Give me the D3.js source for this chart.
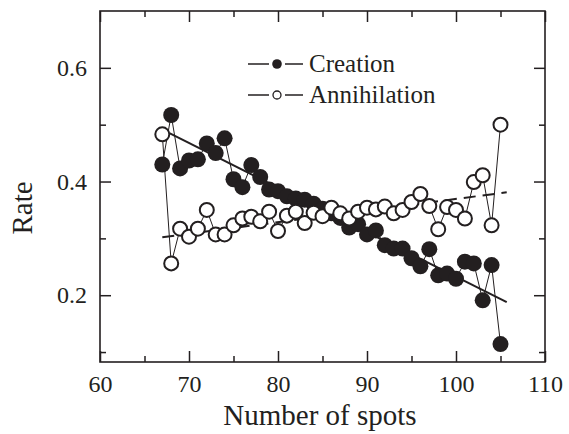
<!DOCTYPE html>
<html>
<head>
<meta charset="utf-8">
<script src="https://cdn.jsdelivr.net/npm/d3@7"></script>
<style>
  body { margin: 0; background: #fff; }
  svg { display: block; }
  svg text { font-family: "Liberation Serif", "Times New Roman", Times, "DejaVu Serif", serif !important; fill: #231f20; }
</style>
</head>
<body>
<script>
const spots = [67, 68, 69, 70, 71, 72, 73, 74, 75, 76, 77, 78, 79, 80, 81, 82, 83, 84, 85, 86,
  87, 88, 89, 90, 91, 92, 93, 94, 95, 96, 97, 98, 99, 100, 101, 102, 103, 104, 105];
const creation = [0.430, 0.517, 0.423, 0.437, 0.439, 0.467, 0.450, 0.476, 0.404, 0.390,
  0.429, 0.408, 0.386, 0.383, 0.374, 0.370, 0.368, 0.361, 0.352, 0.344,
  0.336, 0.319, 0.325, 0.307, 0.314, 0.288, 0.282, 0.282, 0.265, 0.251,
  0.281, 0.235, 0.238, 0.229, 0.259, 0.256, 0.191, 0.253, 0.114];
const annihilation = [0.483, 0.256, 0.317, 0.303, 0.317, 0.350, 0.307, 0.307, 0.323, 0.335,
  0.338, 0.330, 0.347, 0.313, 0.340, 0.347, 0.327, 0.345, 0.339, 0.354,
  0.344, 0.335, 0.347, 0.354, 0.351, 0.356, 0.344, 0.350, 0.364, 0.378,
  0.357, 0.316, 0.355, 0.350, 0.335, 0.399, 0.411, 0.323, 0.500];
// fitted trend lines (end points)
const creationFit = [[67.8, 0.485], [105.7, 0.188]];
const annihilationFit = [[67, 0.302], [105.7, 0.381]];

const xTicks = [60, 65, 70, 75, 80, 85, 90, 95, 100, 105, 110];
const xLabels = [60, 70, 80, 90, 100, 110];
const yTicks = [0.1, 0.2, 0.3, 0.4, 0.5, 0.6];
const yLabels = [0.2, 0.4, 0.6];

const W = 569, H = 434;
const ink = '#231f20';
const serif = '"Liberation Serif", "Times New Roman", Times, "DejaVu Serif", serif';

const svg = d3.select('body').append('svg')
  .attr('width', W)
  .attr('height', H)
  .attr('font-family', serif);

const x = d3.scaleLinear().domain([60, 110]).range([100, 545]);
const y = d3.scaleLinear().domain([0.0825, 0.7]).range([362, 11]);

const isMajorX = (d) => xLabels.includes(d);
const isMajorY = (d) => yLabels.includes(d);
const fmtY = d3.format('.1f');

// axes with inward ticks on all four sides
const axes = [
  { ax: d3.axisBottom(x).tickValues(xTicks).tickPadding(13)
      .tickFormat((d) => isMajorX(d) ? d : ''), pos: `translate(0,${y.range()[0]})`, major: isMajorX },
  { ax: d3.axisTop(x).tickValues(xTicks).tickFormat(''), pos: `translate(0,${y.range()[1]})`, major: isMajorX },
  { ax: d3.axisLeft(y).tickValues(yTicks).tickPadding(13)
      .tickFormat((d) => isMajorY(d) ? fmtY(d) : ''), pos: `translate(${x.range()[0]},0)`, major: isMajorY },
  { ax: d3.axisRight(y).tickValues(yTicks).tickFormat(''), pos: `translate(${x.range()[1]},0)`, major: isMajorY }
];

axes.forEach((a) => {
  let g = svg.append('g')
    .attr('transform', a.pos)
    .call(a.ax.tickSize(-11))
    .attr('font-family', serif)
    .attr('font-size', 24);
  g.select('.domain').remove();
  g.selectAll('.tick line')
    .attr('stroke', ink)
    .attr('stroke-width', 1.5)
    .each(function(d) {
      let line = d3.select(this);
      let len = a.major(d) ? 11 : 6;
      if (line.attr('x2') != null && +line.attr('x2') !== 0) line.attr('x2', Math.sign(+line.attr('x2')) * len);
      if (line.attr('y2') != null && +line.attr('y2') !== 0) line.attr('y2', Math.sign(+line.attr('y2')) * len);
    });
  g.selectAll('.tick text')
    .attr('fill', ink)
    .style('font-size', '24px');
});

// frame
svg.append('rect')
  .attr('x', x.range()[0])
  .attr('y', y.range()[1])
  .attr('width', x.range()[1] - x.range()[0])
  .attr('height', y.range()[0] - y.range()[1])
  .attr('fill', 'none')
  .attr('stroke', ink)
  .attr('stroke-width', 1.6);

const line = d3.line()
  .x((d) => x(d[0]))
  .y((d) => y(d[1]));

const creationPts = spots.map((s, i) => [s, creation[i]]);
const annihilationPts = spots.map((s, i) => [s, annihilation[i]]);

// connecting lines
svg.append('path')
  .datum(creationPts)
  .attr('d', line)
  .attr('fill', 'none')
  .attr('stroke', ink)
  .attr('stroke-width', 1);

svg.append('path')
  .datum(annihilationPts)
  .attr('d', line)
  .attr('fill', 'none')
  .attr('stroke', ink)
  .attr('stroke-width', 1);

// trend lines
svg.append('path')
  .datum(creationFit)
  .attr('d', line)
  .attr('fill', 'none')
  .attr('stroke', ink)
  .attr('stroke-width', 2);

svg.append('path')
  .datum(annihilationFit)
  .attr('d', line)
  .attr('fill', 'none')
  .attr('stroke', ink)
  .attr('stroke-width', 2)
  .attr('stroke-dasharray', '12,7');

// markers
svg.append('g').selectAll('circle')
  .data(creationPts)
  .enter()
  .append('circle')
  .attr('cx', (d) => x(d[0]))
  .attr('cy', (d) => y(d[1]))
  .attr('r', 8)
  .attr('fill', ink);

svg.append('g').selectAll('circle')
  .data(annihilationPts)
  .enter()
  .append('circle')
  .attr('cx', (d) => x(d[0]))
  .attr('cy', (d) => y(d[1]))
  .attr('r', 7)
  .attr('fill', '#fff')
  .attr('stroke', ink)
  .attr('stroke-width', 2);

// legend
const legend = [
  { name: 'Creation', filled: true, cy: 64 },
  { name: 'Annihilation', filled: false, cy: 95 }
];

let lg = svg.append('g').selectAll('g')
  .data(legend)
  .enter()
  .append('g')
  .attr('transform', (d) => `translate(0, ${d.cy})`);

lg.append('line').attr('x1', 248).attr('x2', 269).attr('stroke', ink).attr('stroke-width', 1.5);
lg.append('line').attr('x1', 285).attr('x2', 303).attr('stroke', ink).attr('stroke-width', 1.5);
lg.append('circle')
  .attr('cx', 277)
  .attr('r', (d) => d.filled ? 4.8 : 4)
  .attr('fill', (d) => d.filled ? ink : '#fff')
  .attr('stroke', ink)
  .attr('stroke-width', (d) => d.filled ? 0 : 1.3);
lg.append('text')
  .attr('x', 309)
  .attr('dy', '0.33em')
  .style('font-size', '25px')
  .text((d) => d.name);

// axis titles
svg.append('text')
  .attr('x', 320)
  .attr('y', 425)
  .attr('text-anchor', 'middle')
  .style('font-size', '29px')
  .text('Number of spots');

svg.append('text')
  .attr('transform', 'translate(32, 208) rotate(-90)')
  .attr('text-anchor', 'middle')
  .style('font-size', '29px')
  .text('Rate');
</script>
</body>
</html>
